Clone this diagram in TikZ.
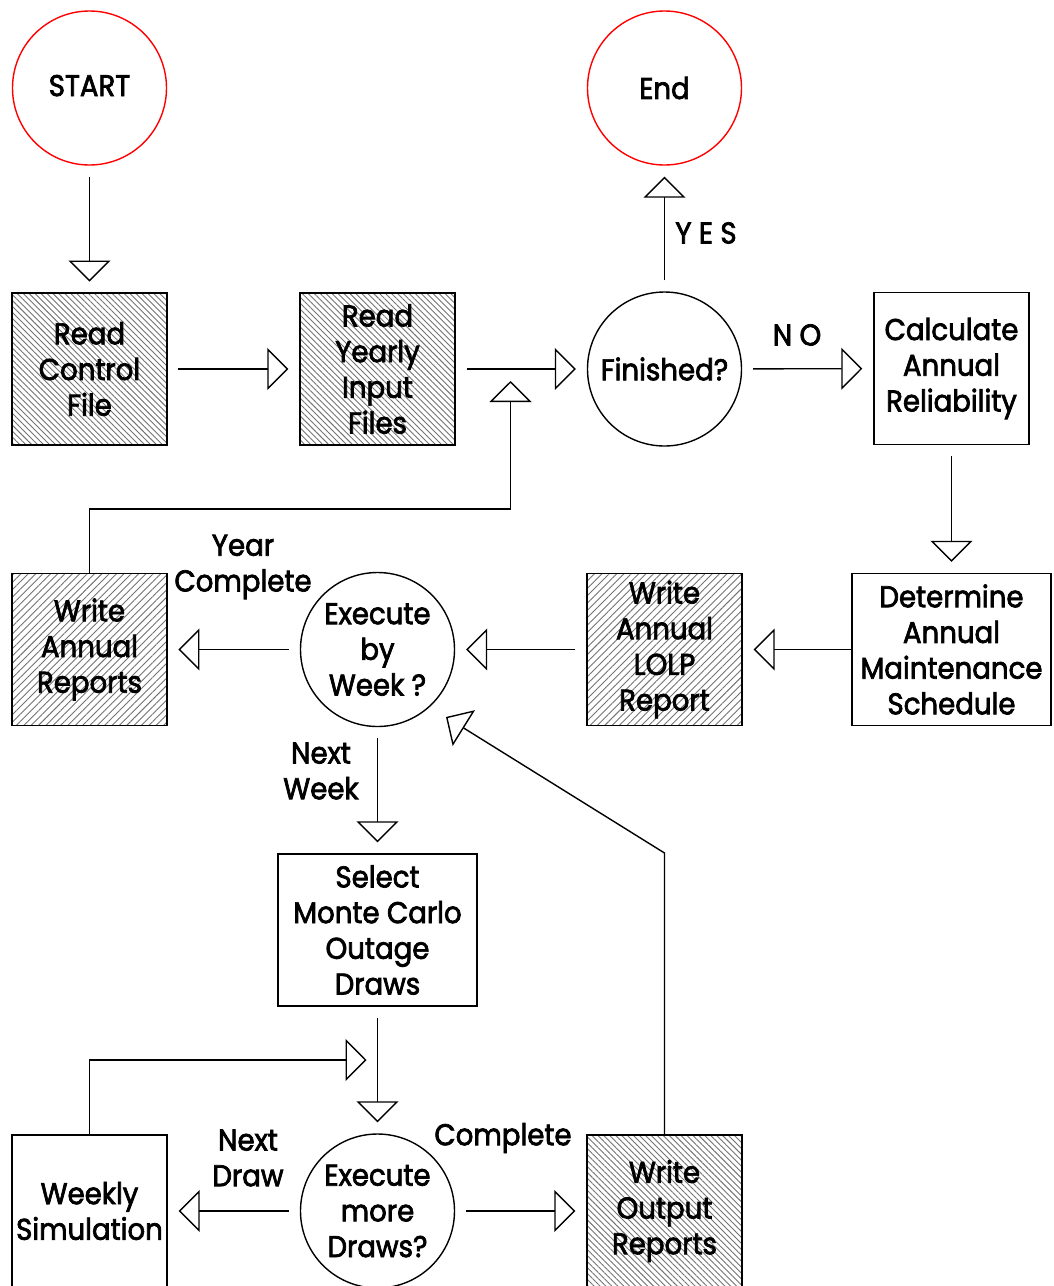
\documentclass[tikz,border=0pt]{standalone}
\usepackage{fontspec}
\setmainfont{Poppins}[FakeBold=2.4, FakeStretch=0.92]
\usetikzlibrary{arrows.meta,patterns.meta}

% text size used by every label and box
\newcommand\flowfont{\fontsize{30}{35.7}\selectfont}

\tikzset{
  box/.style={draw, rectangle, minimum width=155pt, minimum height=152pt,
    align=center, font=\flowfont, inner sep=0pt},
  wide/.style={box, minimum width=199pt},
  ring/.style={draw, circle, minimum size=154pt, align=center,
    font=\flowfont, inner sep=0pt},
  terminal/.style={ring, draw=red},
  hatchnw/.style={pattern={Lines[angle=-45, distance=4.2pt, line width=0.9pt]},
    pattern color=black!55},
  hatchne/.style={pattern={Lines[angle=45, distance=5.2pt, line width=0.9pt]},
    pattern color=black!55},
  flow/.style={-{Triangle[open, length=21pt, width=42pt]},
    shorten <=11pt, shorten >=11pt},
  tag/.style={font=\flowfont, align=center, inner sep=0pt},
}

\begin{document}
\begin{tikzpicture}[x=1pt, y=-1pt, line width=1.4pt]
  \useasboundingbox (0,0) rectangle (1054,1286);
  \clip (0,0) rectangle (1054,1286);
  \fill[white] (0,0) rectangle (1054,1286);

  % row 1
  \node[terminal] (start) at (89.5,88) {\raisebox{5pt}{START}};
  \node[terminal] (end)   at (664.5,88) {End};

  % row 2
  \node[box, hatchnw] (rcf) at (89.5,369) {Read\\Control\\File};
  \node[box, hatchnw] (ryf) at (377.5,369) {Read\\Yearly\\Input\\Files};
  \node[ring] (fin) at (664.5,369) {Finished?};
  \node[box] (calc) at (951.5,368.5) {Calculate\\Annual\\Reliability};

  % row 3
  \node[box, hatchne] (war) at (89.5,649.5) {Write\\Annual\\Reports};
  \node[ring] (exw) at (377.5,649.5) {Execute\\by\\Week ?};
  \node[box, hatchne] (lolp) at (664.5,649.5) {Write\\Annual\\LOLP\\Report};
  \node[wide] (det) at (951.5,649.5) {Determine\\Annual\\Maintenance\\Schedule};

  % row 4
  \node[wide] (sel) at (377.5,930) {Select\\Monte Carlo\\Outage\\Draws};

  % row 5
  \node[box] (wk) at (89.5,1211) {Weekly\\Simulation};
  \node[ring] (exd) at (377.5,1211) {Execute\\more\\Draws?};
  \node[box, hatchnw] (wor) at (664.5,1211) {Write\\Output\\Reports};

  % junction points and bends
  \coordinate (j1) at (510.5,369);
  \coordinate (j2) at (377.5,1060);
  \coordinate (bend) at (664.5,853);
  \coordinate (back) at (446,717);

  % connectors
  \draw[flow] (start) -- (rcf);
  \draw[flow] (rcf) -- (ryf);
  \draw[flow] (ryf) -- (fin);
  \draw[flow] (fin) -- (end);
  \draw[flow] (fin) -- (calc);
  \draw[flow] (calc) -- (det);
  \draw[flow, shorten <=0pt] (det) -- (lolp);
  \draw[flow] (lolp) -- (exw);
  \draw[flow] (exw) -- (war);
  \draw[flow, shorten <=0pt, shorten >=12pt] (war.north) -- ++(0,-64) -| (j1);
  \draw[flow] (exw) -- (sel);
  \draw[flow] (sel) -- (exd);
  \draw[flow] (exd) -- (wk);
  \draw[flow] (exd) -- (wor);
  \draw[flow, shorten <=0pt] (wk.north) |- (j2);
  \draw[flow, shorten <=0pt, shorten >=0pt] (wor.north) -- (bend) -- (back);

  % connector labels
  \node[tag] (yes) at (706,233) {Y E S};
  \node[tag] (no) at (797,335) {N O};
  \node[tag] (yearc) at (243,567) {Year\\Complete};
  \node[tag] (nextw) at (321,771) {Next\\Week};
  \node[tag] (nextd) at (248,1158) {Next\\Draw};
  \node[tag] (compl) at (503,1138) {Complete};
\end{tikzpicture}
\end{document}
